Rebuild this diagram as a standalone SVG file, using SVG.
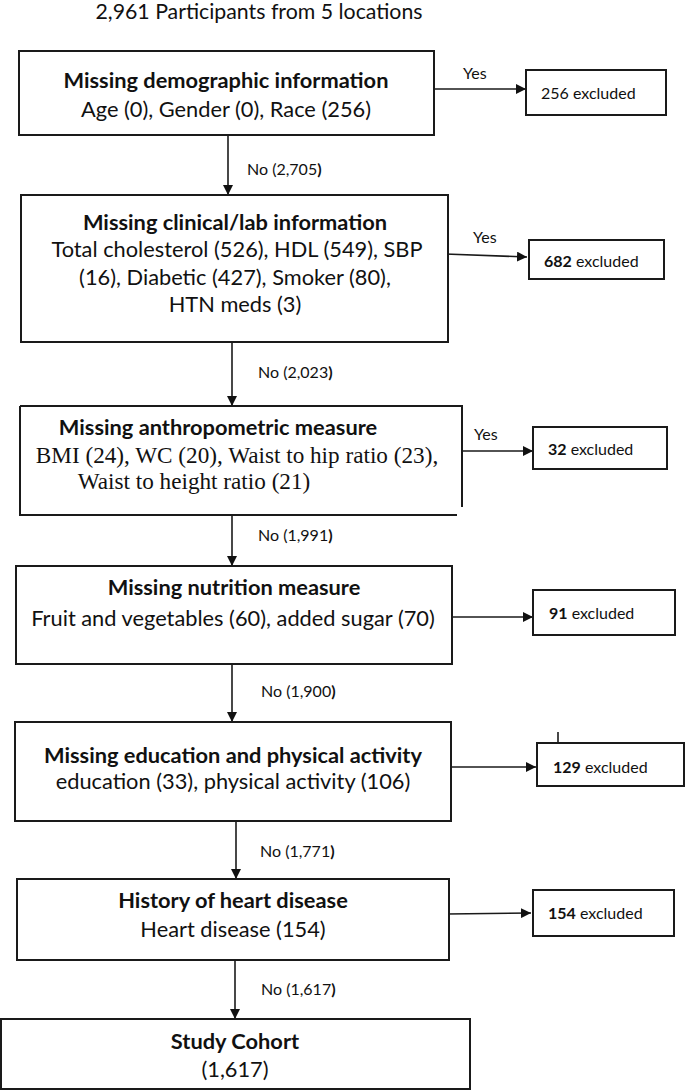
<svg xmlns="http://www.w3.org/2000/svg" width="685" height="1091" viewBox="0 0 685 1091">
<defs>
<style>
.box{fill:#fff;stroke:#1a1a1a;stroke-width:2}
.ln{stroke:#1a1a1a;stroke-width:1.6;fill:none}
.t{font-family:Lato,"Liberation Sans",sans-serif;fill:#111}
.h{font-size:21.8px;font-weight:bold;text-anchor:middle}
.b{font-size:21.8px;text-anchor:middle}
.s{font-size:16px}
.tr{font-family:"Liberation Serif",serif;font-size:23.2px;fill:#111;text-anchor:middle}
</style>
<marker id="ah" viewBox="0 0 10 10" refX="10" refY="5" markerWidth="10" markerHeight="10" markerUnits="userSpaceOnUse" orient="auto">
<path d="M0,0 L10,5 L0,10 Z" fill="#111"/>
</marker>
</defs>
<rect width="685" height="1091" fill="#fff"/>
<text class="t" x="259" y="19" font-size="21.3" text-anchor="middle">2,961 Participants from 5 locations</text>

<g id="connectors">
<line class="ln" x1="228" y1="135" x2="228" y2="195" marker-end="url(#ah)"/>
<line class="ln" x1="232" y1="342" x2="232" y2="406" marker-end="url(#ah)"/>
<line class="ln" x1="232" y1="515" x2="232" y2="566" marker-end="url(#ah)"/>
<line class="ln" x1="232" y1="664" x2="232" y2="722" marker-end="url(#ah)"/>
<line class="ln" x1="236" y1="821" x2="236" y2="879" marker-end="url(#ah)"/>
<line class="ln" x1="235" y1="960" x2="235" y2="1019" marker-end="url(#ah)"/>
<line class="ln" x1="434" y1="89" x2="526" y2="89" marker-end="url(#ah)"/>
<line class="ln" x1="445" y1="254" x2="527" y2="257" marker-end="url(#ah)"/>
<line class="ln" x1="463" y1="451" x2="533" y2="451" marker-end="url(#ah)"/>
<line class="ln" x1="452" y1="617" x2="533" y2="617" marker-end="url(#ah)"/>
<line class="ln" x1="452" y1="767" x2="536" y2="767" marker-end="url(#ah)"/>
<line class="ln" x1="447" y1="914" x2="531" y2="913" marker-end="url(#ah)"/>
<text class="t s" x="247" y="175">No (2,705<tspan font-weight="bold">)</tspan></text>
<text class="t s" x="258" y="378">No (2,023<tspan font-weight="bold">)</tspan></text>
<text class="t s" x="258" y="541">No (1,991<tspan font-weight="bold">)</tspan></text>
<text class="t s" x="261" y="697">No (1,900<tspan font-weight="bold">)</tspan></text>
<text class="t s" x="260" y="857">No (1,771<tspan font-weight="bold">)</tspan></text>
<text class="t s" x="261" y="995">No (1,617<tspan font-weight="bold">)</tspan></text>
<text class="t s" x="463" y="79">Yes</text>
<text class="t s" x="473" y="243">Yes</text>
<text class="t s" x="474" y="440">Yes</text>
</g>

<g id="box1">
<rect class="box" x="19" y="51" width="415" height="84"/>
<text class="t h" x="226" y="88">Missing demographic information</text>
<text class="t b" x="226" y="117">Age (0), Gender (0), Race (256)</text>
</g>
<g id="ex1">
<rect class="box" x="526" y="70" width="140" height="45"/>
<text class="t s" x="541" y="99">256 excluded</text>
</g>

<g id="box2">
<rect class="box" x="21" y="195" width="427" height="147"/>
<text class="t h" x="235" y="230">Missing clinical/lab information</text>
<text class="t b" x="237" y="257">Total cholesterol (526), HDL (549), SBP</text>
<text class="t b" x="235" y="285">(16), Diabetic (427), Smoker (80),</text>
<text class="t b" x="235" y="312">HTN meds (3)</text>
</g>
<g id="ex2">
<rect class="box" x="529" y="240" width="135" height="39"/>
<text class="t s" x="544" y="267"><tspan font-weight="bold">682</tspan> excluded</text>
</g>

<g id="box3">
<path class="box" d="M20,406 H462 V507 M457,515 H20 V406" fill="#fff"/>
<text class="t h" x="218" y="435" font-size="22.4">Missing anthropometric measure</text>
<text class="tr" x="237" y="463">BMI (24), WC (20), Waist to hip ratio (23),</text>
<text class="tr" x="194" y="489">Waist to height ratio (21)</text>
</g>
<g id="ex3">
<rect class="box" x="533" y="427" width="134" height="42"/>
<text class="t s" x="548" y="455"><tspan font-weight="bold">32</tspan> excluded</text>
</g>

<g id="box4">
<rect class="box" x="16" y="566" width="436" height="98"/>
<text class="t h" x="234" y="595">Missing nutrition measure</text>
<text class="t b" x="233" y="626">Fruit and vegetables (60), added sugar (70)</text>
</g>
<g id="ex4">
<rect class="box" x="533" y="590" width="142" height="45"/>
<text class="t s" x="549" y="619"><tspan font-weight="bold">91</tspan> excluded</text>
</g>

<g id="box5">
<rect class="box" x="15" y="722" width="436" height="99"/>
<text class="t h" x="233" y="763">Missing education and physical activity</text>
<text class="t b" x="233" y="789">education (33), physical activity (106)</text>
</g>
<g id="ex5">
<line class="ln" x1="558" y1="732" x2="558" y2="743"/>
<rect class="box" x="537" y="743" width="147" height="43"/>
<text class="t s" x="553" y="773"><tspan font-weight="bold">129</tspan> excluded</text>
</g>

<g id="box6">
<rect class="box" x="17" y="879" width="432" height="81"/>
<text class="t h" x="233" y="908">History of heart disease</text>
<text class="t b" x="233" y="937">Heart disease (154)</text>
</g>
<g id="ex6">
<rect class="box" x="533" y="890" width="141" height="46"/>
<text class="t s" x="548" y="919"><tspan font-weight="bold">154</tspan> excluded</text>
</g>

<g id="box7">
<rect class="box" x="1" y="1019" width="469" height="70"/>
<text class="t h" x="235" y="1049">Study Cohort</text>
<text class="t b" x="235" y="1077">(1,617)</text>
</g>
</svg>
